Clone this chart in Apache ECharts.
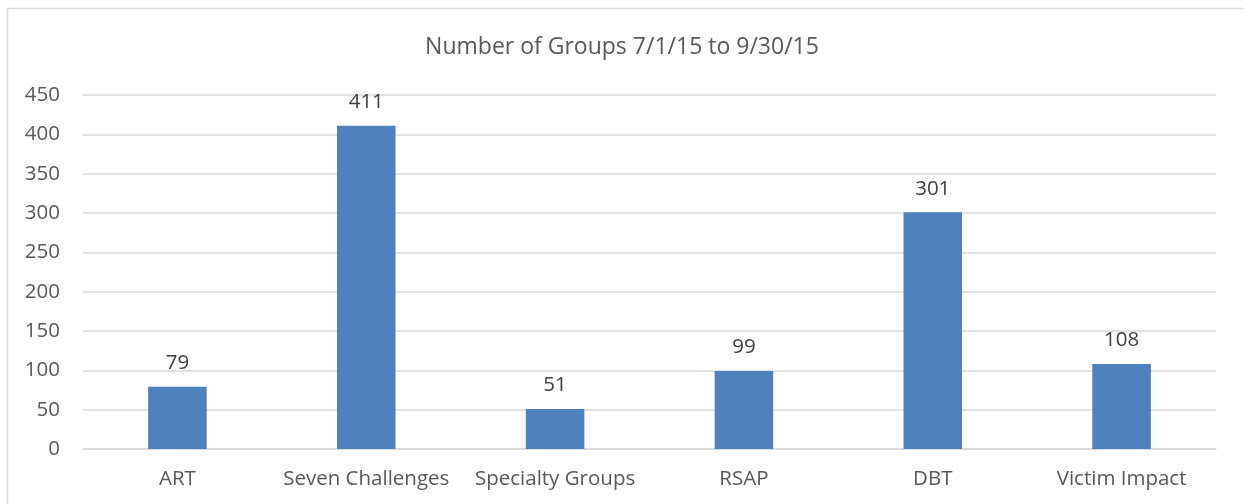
<!DOCTYPE html>
<html>
<head>
<meta charset="utf-8">
<script src="https://cdn.jsdelivr.net/npm/echarts@6/dist/echarts.min.js"></script>
<style>
  html, body { margin: 0; padding: 0; background: #fff; }
  #chart { width: 1244px; height: 504px; }
</style>
</head>
<body>
<div id="chart"></div>
<script>
// data
const categories = ["ART", "Seven Challenges", "Specialty Groups", "RSAP", "DBT", "Victim Impact"];
const groupCounts = [79, 411, 51, 99, 301, 108];

const myEchart = echarts.init(document.getElementById("chart"));
const font = "'Open Sans', 'Liberation Sans', sans-serif";

const options = {
  animation: false,
  title: {
    text: "Number of Groups 7/1/15 to 9/30/15",
    left: "center",
    top: 31,
    textStyle: { color: "#595959", fontSize: 23, fontWeight: "normal", fontFamily: font },
  },
  // outer chart border
  graphic: [
    {
      type: "rect",
      z: -1,
      shape: { x: 7.5, y: 8.5, width: 1300, height: 600 },
      style: { fill: "none", stroke: "#d9d9d9", lineWidth: 1.5 },
    },
  ],
  grid: {
    left: 83,
    right: 28,
    top: 95,
    bottom: 55,
  },
  xAxis: {
    type: "category",
    data: categories,
    axisLine: { lineStyle: { color: "#d9d9d9", width: 1.5 } },
    axisTick: { show: false },
    axisLabel: { color: "#595959", fontSize: 20.5, fontFamily: font, margin: 20, interval: 0 },
  },
  yAxis: {
    type: "value",
    min: 0,
    max: 450,
    interval: 50,
    axisLine: { show: false },
    axisTick: { show: false },
    axisLabel: { color: "#595959", fontSize: 20.5, fontFamily: font, margin: 23 },
    splitLine: { lineStyle: { color: "#d9d9d9", width: 1.5 } },
  },
  series: [
    {
      type: "bar",
      data: groupCounts,
      barWidth: "31%",
      itemStyle: { color: "#4f81bd" },
      label: {
        show: true,
        position: "top",
        distance: 13,
        color: "#404040",
        fontSize: 20.5,
        fontFamily: font,
      },
    },
  ],
};

myEchart.setOption(options);
</script>
</body>
</html>
